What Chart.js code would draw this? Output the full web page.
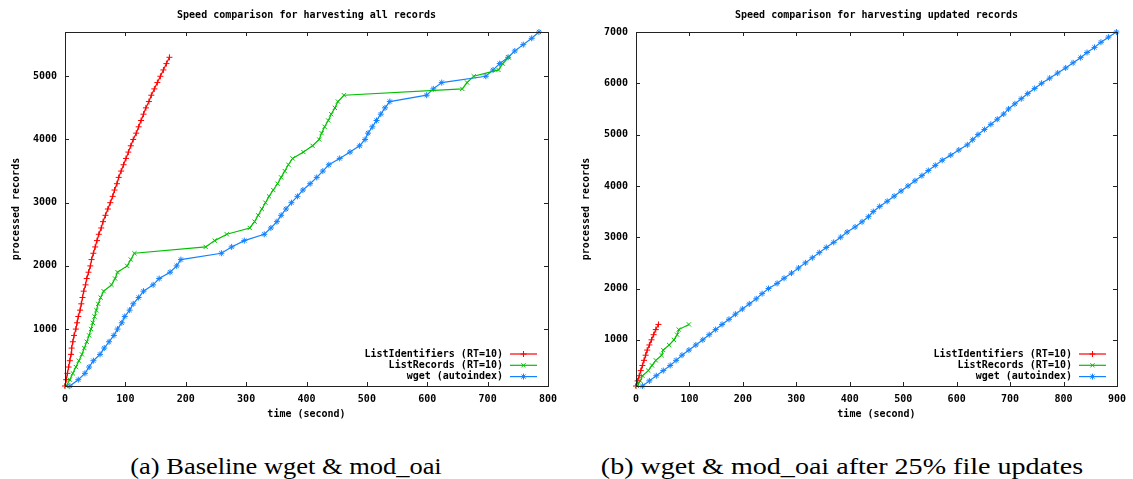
<!DOCTYPE html>
<html>
<head>
<meta charset="utf-8">
<script src="https://cdn.jsdelivr.net/npm/chart.js@4/dist/chart.umd.min.js"></script>
<style>
  html, body { margin: 0; padding: 0; background: #fff; }
  body { width: 1133px; height: 479px; position: relative; overflow: hidden; }
  .box { position: absolute; top: 0; height: 430px; }
  #boxA { left: 0; width: 565px; }
  #boxB { left: 570px; width: 563px; }
  .cap { position: absolute; top: 455px; line-height: 24px; font-family: "Liberation Serif", "DejaVu Serif", serif;
         font-size: 23px; color: #000; white-space: nowrap; }
</style>
</head>
<body>
<div class="box" id="boxA"><canvas id="chartA" width="565" height="430"></canvas></div>
<div class="box" id="boxB"><canvas id="chartB" width="563" height="430"></canvas></div>
<div class="cap" style="left:286px; transform:translateX(-50%) scaleX(1.15)">(a) Baseline wget &amp; mod_oai</div>
<div class="cap" style="left:842px; transform:translateX(-50%) scaleX(1.22)">(b) wget &amp; mod_oai after 25% file updates</div>

<script>
// ── Data ─────────────────────────────────────
// processed records: one sample every 100 records
const RECORDS = [
  100, 200, 300, 400, 500, 600, 700, 800, 900, 1000,
  1100, 1200, 1300, 1400, 1500, 1600, 1700, 1800, 1900, 2000,
  2100, 2200, 2300, 2400, 2500, 2600, 2700, 2800, 2900, 3000,
  3100, 3200, 3300, 3400, 3500, 3600, 3700, 3800, 3900, 4000,
  4100, 4200, 4300, 4400, 4500, 4600, 4700, 4800, 4900, 5000,
  5100, 5200, 5300, 5400, 5500, 5600, 5700, 5800, 5900, 6000,
  6100, 6200, 6300, 6400, 6500, 6600, 6700, 6800, 6900, 7000
];

const SERIES_NAMES = ['ListIdentifiers (RT=10)', 'ListRecords (RT=10)', 'wget (autoindex)'];

// (a) baseline – elapsed seconds at each RECORDS step
const A_LISTIDS = [
  0, 2, 4, 6, 8, 10, 11, 13, 15, 18,
  20, 22, 25, 27, 29, 31, 34, 36, 39, 42,
  44, 47, 50, 53, 56, 60, 63, 67, 71, 75,
  79, 82, 86, 89, 93, 97, 101, 105, 109, 113,
  118, 122, 126, 130, 134, 139, 143, 148, 153, 158,
  163, 168, 173
];
const A_LISTRECS = [
  2, 8, 13, 18, 23, 28, 32, 36, 40, 43,
  46, 49, 52, 55, 59, 64, 77, 83, 87, 103,
  109, 115, 233, 248, 268, 306, 314, 320, 326, 332,
  338, 345, 352, 358, 364, 370, 377, 395, 410, 421,
  425, 430, 436, 441, 447, 452, 462, 658, 666, 677,
  718, 725, 735
];
const A_WGET = [
  8, 22, 33, 40, 47, 58, 65, 73, 81, 87,
  94, 99, 107, 113, 122, 130, 146, 156, 174, 185,
  192, 259, 276, 297, 330, 341, 351, 358, 366, 375,
  385, 394, 406, 417, 427, 437, 455, 472, 488, 497,
  502, 509, 516, 523, 530, 538, 599, 610, 624, 697,
  709, 720, 734, 745, 759, 773, 785
];

// (b) after 25% file updates
const B_LISTIDS  = [0, 3, 6, 9, 12, 15, 18, 21, 25, 29, 33, 37, 42];
const B_LISTRECS = [2, 8, 12, 23, 30, 37, 48, 51, 62, 71, 77, 80, 99];
const B_WGET = [
  12, 25, 38, 51, 64, 75, 86, 99, 112, 125,
  137, 149, 161, 174, 186, 199, 212, 225, 236, 248,
  264, 277, 291, 304, 317, 330, 343, 356, 370, 383,
  395, 410, 423, 435, 444, 456, 470, 483, 496, 509,
  522, 535, 547, 560, 573, 589, 604, 620, 630, 640,
  652, 664, 676, 688, 697, 709, 721, 733, 746, 759,
  774, 789, 804, 818, 832, 844, 858, 870, 884, 899
];

const A_XMAX = 800, B_XMAX = 900;
const A_YMIN = 100, A_YMAX = 5700;
const B_YMIN = 100, B_YMAX = 7000;
const A_YTICKS = [1000, 2000, 3000, 4000, 5000];
const B_YTICKS = [1000, 2000, 3000, 4000, 5000, 6000, 7000];

// ── Style ────────────────────────────────────
const MONO  = '"DejaVu Sans Mono", "Liberation Mono", monospace';
const FONT  = { family: MONO, size: 10, weight: 'bold' };
const TICK  = 4;
const LOOKS = [
  { color: 'rgb(255,0,0)',    style: 'cross'    },
  { color: 'rgb(0,192,0)',    style: 'crossRot' },
  { color: 'rgb(20,130,255)', style: 'star'     }
];

const toPts = times => times.map((t, i) => ({ x: t, y: RECORDS[i] }));

function makeSet(i, times) {
  const lk = LOOKS[i];
  return {
    label: SERIES_NAMES[i],
    data: toPts(times),
    borderColor: lk.color,
    backgroundColor: lk.color,
    borderWidth: 1.2,
    pointStyle: lk.style,
    pointRadius: 3,
    pointBorderWidth: 1,
    pointBorderColor: lk.color,
    tension: 0,
    fill: false,
    clip: false
  };
}

// title over the plot box, box border, inward ticks and gnuplot-style key
const frame = {
  id: 'frame',
  afterDatasetsDraw(chart) {
    const { ctx, chartArea: a, scales: { x, y } } = chart;
    ctx.save();
    ctx.strokeStyle = '#222';
    ctx.lineWidth = 1;
    ctx.strokeRect(Math.round(a.left) + .5, Math.round(a.top) + .5,
                   Math.round(a.right - a.left), Math.round(a.bottom - a.top));
    ctx.beginPath();
    x.ticks.forEach(t => {
      const px = Math.round(x.getPixelForValue(t.value)) + .5;
      ctx.moveTo(px, a.top);    ctx.lineTo(px, a.top + TICK);
      ctx.moveTo(px, a.bottom); ctx.lineTo(px, a.bottom - TICK);
    });
    y.ticks.forEach(t => {
      const py = Math.round(y.getPixelForValue(t.value)) + .5;
      ctx.moveTo(a.left, py);  ctx.lineTo(a.left + TICK, py);
      ctx.moveTo(a.right, py); ctx.lineTo(a.right - TICK, py);
    });
    ctx.stroke();

    ctx.font = `bold 10px ${MONO}`;
    ctx.fillStyle = '#000';
    ctx.textAlign = 'center';
    ctx.textBaseline = 'middle';
    ctx.fillText(chart.options.plotTitle, (a.left + a.right) / 2, 15);

    // key
    ctx.textAlign = 'right';
    chart.data.datasets.forEach((ds, i) => {
      const yy = a.bottom - 32 + i * 11.3;
      ctx.fillStyle = '#000';
      ctx.fillText(ds.label, a.right - 45, yy);
      ctx.strokeStyle = ds.borderColor;
      ctx.fillStyle = ds.borderColor;
      ctx.lineWidth = ds.borderWidth;
      ctx.beginPath();
      ctx.moveTo(a.right - 38, yy);
      ctx.lineTo(a.right - 11, yy);
      ctx.stroke();
      ctx.lineWidth = ds.pointBorderWidth;
      Chart.helpers.drawPoint(ctx, { pointStyle: ds.pointStyle, radius: ds.pointRadius,
                                     borderWidth: ds.pointBorderWidth, rotation: 0 }, a.right - 24.5, yy);
    });
    ctx.restore();
  }
};

function makeChart(id, cfg) {
  return new Chart(document.getElementById(id), {
    type: 'line',
    data: { datasets: cfg.sets },
    plugins: [frame],
    options: {
      plotTitle: cfg.title,
      responsive: false,
      animation: false,
      layout: { padding: { left: 0, right: cfg.padRight, top: 32, bottom: 0 } },
      plugins: {
        legend: { display: false },
        tooltip: { enabled: false },
        title: { display: false }
      },
      scales: {
        x: {
          type: 'linear', min: 0, max: cfg.xMax,
          ticks: { stepSize: 100, color: '#000', font: FONT, padding: 7, maxRotation: 0, autoSkip: false,
                   callback: v => String(v) },
          grid: { display: false, drawTicks: false },
          border: { display: false },
          title: { display: true, text: 'time (second)', color: '#000', font: FONT, padding: { top: 10, bottom: 10 } },
          afterFit: s => { s.height = 44; }
        },
        y: {
          type: 'linear', min: cfg.yMin, max: cfg.yMax,
          afterBuildTicks: s => { s.ticks = cfg.yTicks.map(v => ({ value: v })); },
          ticks: { color: '#000', font: FONT, padding: 8, callback: v => String(v) },
          grid: { display: false, drawTicks: false },
          border: { display: false },
          title: { display: true, text: 'processed records', color: '#000', font: FONT, padding: { top: 10, bottom: 10 } },
          afterFit: s => { s.width = cfg.yWidth; }
        }
      }
    }
  });
}

makeChart('chartA', {
  title: 'Speed comparison for harvesting all records',
  sets: [makeSet(0, A_LISTIDS), makeSet(1, A_LISTRECS), makeSet(2, A_WGET)],
  xMax: A_XMAX, yMin: A_YMIN, yMax: A_YMAX, yTicks: A_YTICKS,
  yWidth: 65, padRight: 17
});

makeChart('chartB', {
  title: 'Speed comparison for harvesting updated records',
  sets: [makeSet(0, B_LISTIDS), makeSet(1, B_LISTRECS), makeSet(2, B_WGET)],
  xMax: B_XMAX, yMin: B_YMIN, yMax: B_YMAX, yTicks: B_YTICKS,
  yWidth: 66, padRight: 11
});
</script>
</body>
</html>
